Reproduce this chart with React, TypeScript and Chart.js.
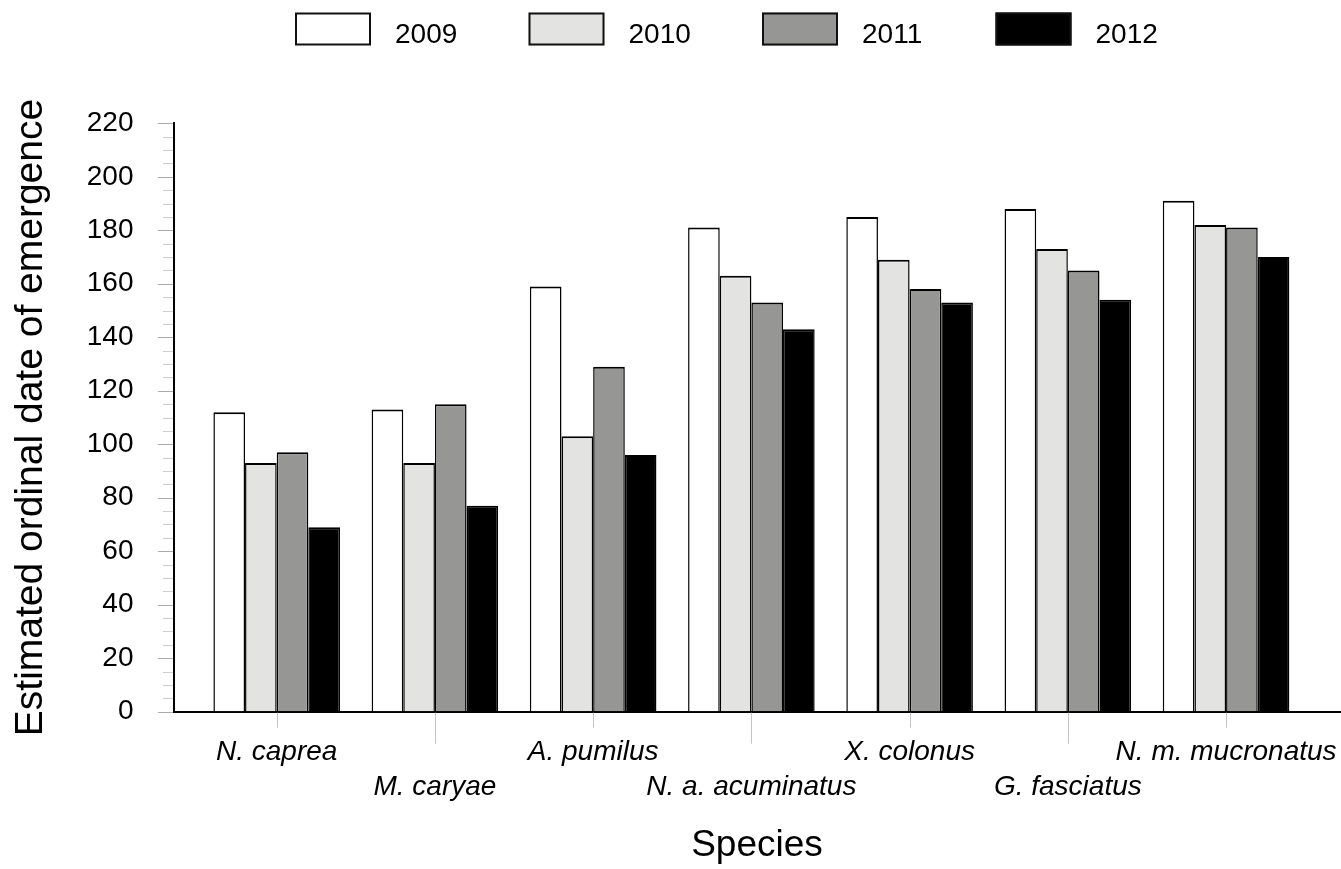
import React, { useEffect, useRef } from 'react';
import { Chart, registerables } from 'chart.js';

Chart.register(...registerables);

const categories = [
  'N. caprea',
  'M. caryae',
  'A. pumilus',
  'N. a. acuminatus',
  'X. colonus',
  'G. fasciatus',
  'N. m. mucronatus',
];
const years = ['2009', '2010', '2011', '2012'];
const values2009 = [112, 113, 159, 181, 185, 188, 191];
const values2010 = [93, 93, 103, 163, 169, 173, 182];
const values2011 = [97, 115, 129, 153, 158, 165, 181];
const values2012 = [69, 77, 96, 143, 153, 154, 170];
const yTickValues = [0, 20, 40, 60, 80, 100, 120, 140, 160, 180, 200, 220];
const yMinorStep = 5;

const seriesValues = [values2009, values2010, values2011, values2012];
const seriesColors = ['#ffffff', '#e3e4e2', '#969795', '#000000'];

const FONT = "'Liberation Sans', Arial, Helvetica, sans-serif";

const decorPlugin = {
  id: 'decor',
  afterDraw(chart: any) {
    const ctx = chart.ctx as CanvasRenderingContext2D;
    const { left, bottom } = chart.chartArea;
    const xs = chart.scales.x;
    const ys = chart.scales.y;
    ctx.save();
    // y ticks (major + minor)
    for (let v = ys.min; v <= ys.max + 0.001; v += yMinorStep) {
      const py = Math.round(ys.getPixelForValue(v)) + 0.5;
      const major = yTickValues.includes(v);
      ctx.strokeStyle = major ? '#ababab' : '#cdcdcd';
      ctx.lineWidth = 1;
      ctx.beginPath();
      ctx.moveTo(left - (major ? 16 : 11), py);
      ctx.lineTo(left - 1, py);
      ctx.stroke();
    }
    // x ticks, alternating lengths
    xs.ticks.forEach((t: any, i: number) => {
      const px = Math.round(xs.getPixelForValue(t.value)) + 0.5;
      ctx.strokeStyle = '#c4c4c4';
      ctx.lineWidth = 1;
      ctx.beginPath();
      ctx.moveTo(px, bottom + 1);
      ctx.lineTo(px, bottom + (i % 2 === 0 ? 16 : 32));
      ctx.stroke();
    });
    // legend
    const startX = 295;
    const step = 233.5;
    const boxW = 76;
    const boxH = 33;
    const boxY = 12.5;
    ctx.font = `28px ${FONT}`;
    ctx.textBaseline = 'alphabetic';
    ctx.textAlign = 'left';
    chart.data.datasets.forEach((ds: any, i: number) => {
      const bx = startX + i * step;
      ctx.fillStyle = ds.backgroundColor;
      ctx.fillRect(bx, boxY, boxW, boxH);
      ctx.strokeStyle = '#111111';
      ctx.lineWidth = 2;
      ctx.strokeRect(bx + 1, boxY + 1, boxW - 2, boxH - 2);
      ctx.fillStyle = '#000000';
      ctx.fillText(ds.label, bx + 100, 42.5);
    });
    ctx.restore();
  },
};

export default function App() {
  const canvasRef = useRef<HTMLCanvasElement | null>(null);

  useEffect(() => {
    if (!canvasRef.current) return;
    Chart.defaults.font.family = FONT;
    Chart.defaults.color = '#000000';
    const chart = new Chart(canvasRef.current, {
      type: 'bar',
      data: {
        datasets: years.map((yr, s) => ({
          label: yr,
          data: seriesValues[s].map((v, i) => ({ x: i, y: v })),
          backgroundColor: seriesColors[s],
          borderColor: '#000000',
          borderWidth: { top: 2, left: 1.5, right: 1.5, bottom: 0 },
          borderSkipped: 'start',
          categoryPercentage: 0.8,
          barPercentage: 1.0,
        })),
      },
      options: {
        animation: false,
        responsive: false,
        events: [],
        layout: { padding: { top: 123.3, right: 1, bottom: 0, left: 0 } },
        plugins: {
          legend: { display: false },
          tooltip: { enabled: false },
          title: { display: false },
        },
        scales: {
          x: {
            type: 'linear',
            offset: false,
            min: -0.649,
            max: 6.72,
            afterBuildTicks: (scale: any) => {
              scale.ticks = categories.map((_, i) => ({ value: i }));
            },
            afterFit: (scale: any) => {
              scale.height = 869 - 711.7;
            },
            grid: {
              display: true,
              offset: false,
              drawOnChartArea: false,
              drawTicks: true,
              tickLength: 23,
              color: 'rgba(0,0,0,0)',
            },
            border: { display: true, color: '#000000', width: 2 },
            ticks: {
              autoSkip: false,
              maxRotation: 0,
              minRotation: 0,
              padding: 0,
              font: { size: 28, style: 'italic', lineHeight: 1.25 },
              callback: (value: any, index: number) => {
                const name = categories[Math.round(Number(value))] ?? '';
                return index % 2 === 0 ? [name] : ['', name];
              },
            },
            title: {
              display: true,
              text: 'Species',
              font: { size: 37, lineHeight: 1.2 },
              padding: { top: 0, bottom: 1 },
            },
          },
          y: {
            type: 'linear',
            min: 0,
            max: 220,
            afterBuildTicks: (scale: any) => {
              scale.ticks = yTickValues.map((v) => ({ value: v }));
            },
            afterFit: (scale: any) => {
              scale.width = 174;
            },
            grid: {
              display: true,
              drawOnChartArea: false,
              drawTicks: true,
              tickLength: 40.5,
              color: 'rgba(0,0,0,0)',
            },
            border: { display: true, color: '#000000', width: 2 },
            ticks: {
              padding: 0,
              font: { size: 28 },
            },
            title: {
              display: true,
              text: 'Estimated ordinal date of emergence',
              font: { size: 39, lineHeight: 1.2 },
              padding: { top: 7.5, bottom: 0 },
            },
          },
        },
      },
      plugins: [decorPlugin],
    } as any);
    return () => chart.destroy();
  }, []);

  return (
    <div
      style={{
        position: 'fixed',
        left: 0,
        top: 0,
        width: 1341,
        height: 869,
        background: '#ffffff',
      }}
    >
      <canvas ref={canvasRef} width={1341} height={869} style={{ display: 'block' }} />
    </div>
  );
}
